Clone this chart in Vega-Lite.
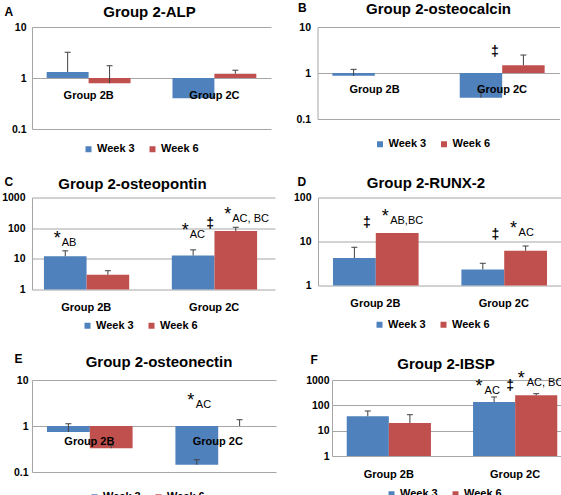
{
  "background": "white",
  "padding": 1,
  "spacing": 20.5,
  "resolve": {"scale": {"color": "independent"}},
  "vconcat": [
    {
      "spacing": 24.5,
      "resolve": {"scale": {"color": "independent"}},
      "hconcat": [
        {
          "width": 239, "height": 102,
          "title": {"text": "Group 2-ALP", "offset": -15, "dx": -2},
          "layer": [
            {
              "data": {"values": [
                {"group": "Group 2B", "week": "Week 3", "bar": "Group 2B / Week 3", "value": 1.31},
                {"group": "Group 2B", "week": "Week 6", "bar": "Group 2B / Week 6", "value": 0.79},
                {"group": "Group 2C", "week": "Week 3", "bar": "Group 2C / Week 3", "value": 0.4},
                {"group": "Group 2C", "week": "Week 6", "bar": "Group 2C / Week 6", "value": 1.21}
              ]},
              "mark": {"type": "bar"},
              "encoding": {
                "x": {"field": "bar", "type": "nominal", "scale": {"domain": ["Group 2B / Week 3", "Group 2B / Week 6", "gap", "Group 2C / Week 3", "Group 2C / Week 6"], "paddingInner": 0, "paddingOuter": 0.35}, "axis": null},
                "y": {"field": "value", "type": "quantitative", "scale": {"type": "log", "domain": [0.1, 10], "nice": false}, "axis": {"values": [0.1, 1, 10], "format": "~g", "title": "A", "titleX": -28, "titleY": -21, "labelPadding": 6}},
                "y2": {"datum": 1},
                "color": {"field": "week", "type": "nominal", "scale": {"domain": ["Week 3", "Week 6"], "range": ["#4F81BD", "#C0504D"]}, "legend": {"title": null, "legendX": 51, "legendY": 116.5}}
              }
            },
            {
              "data": {"values": [
                {"bar": "Group 2B / Week 3", "value": 1.31, "err": 3.2},
                {"bar": "Group 2B / Week 6", "value": 0.79, "err": 1.74},
                {"bar": "Group 2C / Week 6", "value": 1.21, "err": 1.42}
              ]},
              "layer": [
                {"mark": {"type": "bar", "width": 1, "color": "#404040"},
                 "encoding": {"x": {"field": "bar", "type": "nominal"}, "y": {"field": "value", "type": "quantitative"}, "y2": {"field": "err"}}},
                {"mark": {"type": "point", "shape": "M-1,0L1,0", "filled": false, "size": 36, "strokeWidth": 1, "color": "#404040", "opacity": 1},
                 "encoding": {"x": {"field": "bar", "type": "nominal"}, "y": {"field": "err", "type": "quantitative"}}}
              ]
            },
            {
              "data": {"values": [{"bar": "Group 2B / Week 3", "label": "Group 2B"}, {"bar": "Group 2C / Week 3", "label": "Group 2C"}]},
              "mark": {"type": "text", "fontSize": 11, "fontWeight": "bold", "align": "center", "baseline": "top", "dx": 21, "dy": 12, "color": "#000"},
              "encoding": {"x": {"field": "bar", "type": "nominal"}, "y": {"datum": 1}, "text": {"field": "label"}}
            }
          ]
        },
        {
          "width": 242, "height": 92,
          "title": {"text": "Group 2-osteocalcin", "offset": -16, "dx": 0},
          "layer": [
            {
              "data": {"values": [
                {"group": "Group 2B", "week": "Week 3", "bar": "Group 2B / Week 3", "value": 0.87},
                {"group": "Group 2B", "week": "Week 6", "bar": "Group 2B / Week 6", "value": 1.0},
                {"group": "Group 2C", "week": "Week 3", "bar": "Group 2C / Week 3", "value": 0.29},
                {"group": "Group 2C", "week": "Week 6", "bar": "Group 2C / Week 6", "value": 1.47}
              ]},
              "mark": {"type": "bar"},
              "encoding": {
                "x": {"field": "bar", "type": "nominal", "scale": {"domain": ["Group 2B / Week 3", "Group 2B / Week 6", "gap", "Group 2C / Week 3", "Group 2C / Week 6"], "paddingInner": 0, "paddingOuter": 0.35}, "axis": null},
                "y": {"field": "value", "type": "quantitative", "scale": {"type": "log", "domain": [0.1, 10], "nice": false}, "axis": {"values": [0.1, 1, 10], "format": "~g", "title": "B", "titleX": -20, "titleY": -25, "labelPadding": 7}},
                "y2": {"datum": 1},
                "color": {"field": "week", "type": "nominal", "scale": {"domain": ["Week 3", "Week 6"], "range": ["#4F81BD", "#C0504D"]}, "legend": {"title": null, "legendX": 57, "legendY": 111.5}}
              }
            },
            {
              "data": {"values": [
                {"bar": "Group 2B / Week 3", "value": 0.87, "err": 1.2},
                {"bar": "Group 2C / Week 3", "value": 0.29, "err": 0.43},
                {"bar": "Group 2C / Week 6", "value": 1.47, "err": 2.46}
              ]},
              "layer": [
                {"mark": {"type": "bar", "width": 1, "color": "#404040"},
                 "encoding": {"x": {"field": "bar", "type": "nominal"}, "y": {"field": "value", "type": "quantitative"}, "y2": {"field": "err"}}},
                {"mark": {"type": "point", "shape": "M-1,0L1,0", "filled": false, "size": 36, "strokeWidth": 1, "color": "#404040", "opacity": 1},
                 "encoding": {"x": {"field": "bar", "type": "nominal"}, "y": {"field": "err", "type": "quantitative"}}}
              ]
            },
            {
              "data": {"values": [{"bar": "Group 2B / Week 3", "label": "Group 2B"}, {"bar": "Group 2C / Week 3", "label": "Group 2C"}]},
              "mark": {"type": "text", "fontSize": 11, "fontWeight": "bold", "align": "center", "baseline": "top", "dx": 21, "dy": 11, "color": "#000"},
              "encoding": {"x": {"field": "bar", "type": "nominal"}, "y": {"datum": 1}, "text": {"field": "label"}}
            },
            {
              "data": {"values": [{"bar": "Group 2C / Week 3", "y": 2.86}]},
              "mark": {"type": "text", "text": "‡", "fontSize": 14, "fontWeight": "bold", "align": "center", "baseline": "middle", "dx": 14, "color": "#000"},
              "encoding": {"x": {"field": "bar", "type": "nominal"}, "y": {"field": "y", "type": "quantitative"}}
            }
          ]
        }
      ]
    },
    {
      "spacing": 18,
      "resolve": {"scale": {"color": "independent"}},
      "hconcat": [
        {
          "width": 243, "height": 92,
          "title": {"text": "Group 2-osteopontin", "offset": -16, "dx": -21},
          "layer": [
            {
              "data": {"values": [
                {"group": "Group 2B", "week": "Week 3", "bar": "Group 2B / Week 3", "value": 12.2},
                {"group": "Group 2B", "week": "Week 6", "bar": "Group 2B / Week 6", "value": 3.0},
                {"group": "Group 2C", "week": "Week 3", "bar": "Group 2C / Week 3", "value": 12.8},
                {"group": "Group 2C", "week": "Week 6", "bar": "Group 2C / Week 6", "value": 81}
              ]},
              "mark": {"type": "bar"},
              "encoding": {
                "x": {"field": "bar", "type": "nominal", "scale": {"domain": ["Group 2B / Week 3", "Group 2B / Week 6", "gap", "Group 2C / Week 3", "Group 2C / Week 6"], "paddingInner": 0, "paddingOuter": 0.35, "align": 0.4}, "axis": null},
                "y": {"field": "value", "type": "quantitative", "scale": {"type": "log", "domain": [1, 1000], "nice": false}, "axis": {"values": [1, 10, 100, 1000], "format": "~g", "title": "C", "titleX": -28, "titleY": -21, "labelPadding": 7}},
                "y2": {"datum": 1},
                "color": {"field": "week", "type": "nominal", "scale": {"domain": ["Week 3", "Week 6"], "range": ["#4F81BD", "#C0504D"]}, "legend": {"title": null, "legendX": 50, "legendY": 122.5}}
              }
            },
            {
              "data": {"values": [
                {"bar": "Group 2B / Week 3", "value": 12.2, "err": 18.2},
                {"bar": "Group 2B / Week 6", "value": 3.0, "err": 4.1},
                {"bar": "Group 2C / Week 3", "value": 12.8, "err": 19.6},
                {"bar": "Group 2C / Week 6", "value": 81, "err": 107}
              ]},
              "layer": [
                {"mark": {"type": "bar", "width": 1, "color": "#404040"},
                 "encoding": {"x": {"field": "bar", "type": "nominal"}, "y": {"field": "value", "type": "quantitative"}, "y2": {"field": "err"}}},
                {"mark": {"type": "point", "shape": "M-1,0L1,0", "filled": false, "size": 36, "strokeWidth": 1, "color": "#404040", "opacity": 1},
                 "encoding": {"x": {"field": "bar", "type": "nominal"}, "y": {"field": "err", "type": "quantitative"}}}
              ]
            },
            {
              "data": {"values": [{"bar": "Group 2B / Week 3", "label": "Group 2B"}, {"bar": "Group 2C / Week 3", "label": "Group 2C"}]},
              "mark": {"type": "text", "fontSize": 11, "fontWeight": "bold", "align": "center", "baseline": "top", "dx": 21, "dy": 12, "color": "#000"},
              "encoding": {"x": {"field": "bar", "type": "nominal"}, "y": {"datum": 1}, "text": {"field": "label"}}
            },
            {
              "data": {"values": [
                {"bar": "Group 2B / Week 3", "y": 34, "sub": "AB"},
                {"bar": "Group 2C / Week 3", "y": 60, "sub": "AC"},
                {"bar": "Group 2C / Week 6", "y": 198, "sub": "AC, BC"}
              ]},
              "layer": [
                {"mark": {"type": "text", "text": "*", "fontSize": 18, "align": "center", "baseline": "middle", "dx": -8, "dy": -4, "color": "#000"},
                 "encoding": {"x": {"field": "bar", "type": "nominal"}, "y": {"field": "y", "type": "quantitative"}}},
                {"mark": {"type": "text", "fontSize": 11, "align": "left", "baseline": "middle", "dx": -3.5, "color": "#000"},
                 "encoding": {"x": {"field": "bar", "type": "nominal"}, "y": {"field": "y", "type": "quantitative"}, "text": {"field": "sub"}}}
              ]
            },
            {
              "data": {"values": [{"bar": "Group 2C / Week 3", "y": 141}]},
              "mark": {"type": "text", "text": "‡", "fontSize": 14, "fontWeight": "bold", "align": "center", "baseline": "middle", "dx": 17, "color": "#000"},
              "encoding": {"x": {"field": "bar", "type": "nominal"}, "y": {"field": "y", "type": "quantitative"}}
            }
          ]
        },
        {
          "width": 244, "height": 88,
          "title": {"text": "Group 2-RUNX-2", "offset": -15, "dx": -14},
          "layer": [
            {
              "data": {"values": [
                {"group": "Group 2B", "week": "Week 3", "bar": "Group 2B / Week 3", "value": 4.2},
                {"group": "Group 2B", "week": "Week 6", "bar": "Group 2B / Week 6", "value": 15.7},
                {"group": "Group 2C", "week": "Week 3", "bar": "Group 2C / Week 3", "value": 2.3},
                {"group": "Group 2C", "week": "Week 6", "bar": "Group 2C / Week 6", "value": 6.2}
              ]},
              "mark": {"type": "bar"},
              "encoding": {
                "x": {"field": "bar", "type": "nominal", "scale": {"domain": ["Group 2B / Week 3", "Group 2B / Week 6", "gap", "Group 2C / Week 3", "Group 2C / Week 6"], "paddingInner": 0, "paddingOuter": 0.35}, "axis": null},
                "y": {"field": "value", "type": "quantitative", "scale": {"type": "log", "domain": [1, 100], "nice": false}, "axis": {"values": [1, 10, 100], "format": "~g", "title": "D", "titleX": -21, "titleY": -21, "labelPadding": 7}},
                "y2": {"datum": 1},
                "color": {"field": "week", "type": "nominal", "scale": {"domain": ["Week 3", "Week 6"], "range": ["#4F81BD", "#C0504D"]}, "legend": {"title": null, "legendX": 56, "legendY": 121.5}}
              }
            },
            {
              "data": {"values": [
                {"bar": "Group 2B / Week 3", "value": 4.2, "err": 7.4},
                {"bar": "Group 2C / Week 3", "value": 2.3, "err": 3.2},
                {"bar": "Group 2C / Week 6", "value": 6.2, "err": 7.9}
              ]},
              "layer": [
                {"mark": {"type": "bar", "width": 1, "color": "#404040"},
                 "encoding": {"x": {"field": "bar", "type": "nominal"}, "y": {"field": "value", "type": "quantitative"}, "y2": {"field": "err"}}},
                {"mark": {"type": "point", "shape": "M-1,0L1,0", "filled": false, "size": 36, "strokeWidth": 1, "color": "#404040", "opacity": 1},
                 "encoding": {"x": {"field": "bar", "type": "nominal"}, "y": {"field": "err", "type": "quantitative"}}}
              ]
            },
            {
              "data": {"values": [{"bar": "Group 2B / Week 3", "label": "Group 2B"}, {"bar": "Group 2C / Week 3", "label": "Group 2C"}]},
              "mark": {"type": "text", "fontSize": 11, "fontWeight": "bold", "align": "center", "baseline": "top", "dx": 21, "dy": 12, "color": "#000"},
              "encoding": {"x": {"field": "bar", "type": "nominal"}, "y": {"datum": 1}, "text": {"field": "label"}}
            },
            {
              "data": {"values": [
                {"bar": "Group 2B / Week 6", "y": 28.5, "sub": "AB,BC"},
                {"bar": "Group 2C / Week 6", "y": 15.2, "sub": "AC"}
              ]},
              "layer": [
                {"mark": {"type": "text", "text": "*", "fontSize": 18, "align": "center", "baseline": "middle", "dx": -12, "dy": -4, "color": "#000"},
                 "encoding": {"x": {"field": "bar", "type": "nominal"}, "y": {"field": "y", "type": "quantitative"}}},
                {"mark": {"type": "text", "fontSize": 11, "align": "left", "baseline": "middle", "dx": -7, "color": "#000"},
                 "encoding": {"x": {"field": "bar", "type": "nominal"}, "y": {"field": "y", "type": "quantitative"}, "text": {"field": "sub"}}}
              ]
            },
            {
              "data": {"values": [{"bar": "Group 2B / Week 3", "y": 26.9}, {"bar": "Group 2C / Week 3", "y": 13.7}]},
              "mark": {"type": "text", "text": "‡", "fontSize": 14, "fontWeight": "bold", "align": "center", "baseline": "middle", "dx": 12.5, "color": "#000"},
              "encoding": {"x": {"field": "bar", "type": "nominal"}, "y": {"field": "y", "type": "quantitative"}}
            }
          ]
        }
      ]
    },
    {
      "spacing": 29,
      "resolve": {"scale": {"color": "independent"}},
      "hconcat": [
        {
          "width": 244, "height": 92,
          "title": {"text": "Group 2-osteonectin", "offset": -18, "dx": 5},
          "layer": [
            {
              "data": {"values": [
                {"group": "Group 2B", "week": "Week 3", "bar": "Group 2B / Week 3", "value": 0.74},
                {"group": "Group 2B", "week": "Week 6", "bar": "Group 2B / Week 6", "value": 0.33},
                {"group": "Group 2C", "week": "Week 3", "bar": "Group 2C / Week 3", "value": 0.144},
                {"group": "Group 2C", "week": "Week 6", "bar": "Group 2C / Week 6", "value": 1.0}
              ]},
              "mark": {"type": "bar"},
              "encoding": {
                "x": {"field": "bar", "type": "nominal", "scale": {"domain": ["Group 2B / Week 3", "Group 2B / Week 6", "gap", "Group 2C / Week 3", "Group 2C / Week 6"], "paddingInner": 0, "paddingOuter": 0.35}, "axis": null},
                "y": {"field": "value", "type": "quantitative", "scale": {"type": "log", "domain": [0.1, 10], "nice": false}, "axis": {"values": [0.1, 1, 10], "format": "~g", "title": "E", "titleX": -18, "titleY": -27, "labelPadding": 4}},
                "y2": {"datum": 1},
                "color": {"field": "week", "type": "nominal", "scale": {"domain": ["Week 3", "Week 6"], "range": ["#4F81BD", "#C0504D"]}, "legend": {"title": null, "legendX": 57, "legendY": 111.5}}
              }
            },
            {
              "data": {"values": [
                {"bar": "Group 2B / Week 3", "value": 0.74, "err": 1.12},
                {"bar": "Group 2B / Week 6", "value": 0.33, "err": 0.38},
                {"bar": "Group 2C / Week 3", "value": 0.144, "err": 0.185},
                {"bar": "Group 2C / Week 6", "value": 1.0, "err": 1.37}
              ]},
              "layer": [
                {"mark": {"type": "bar", "width": 1, "color": "#404040"},
                 "encoding": {"x": {"field": "bar", "type": "nominal"}, "y": {"field": "value", "type": "quantitative"}, "y2": {"field": "err"}}},
                {"mark": {"type": "point", "shape": "M-1,0L1,0", "filled": false, "size": 36, "strokeWidth": 1, "color": "#404040", "opacity": 1},
                 "encoding": {"x": {"field": "bar", "type": "nominal"}, "y": {"field": "err", "type": "quantitative"}}}
              ]
            },
            {
              "data": {"values": [{"bar": "Group 2B / Week 3", "label": "Group 2B"}, {"bar": "Group 2C / Week 3", "label": "Group 2C"}]},
              "mark": {"type": "text", "fontSize": 11, "fontWeight": "bold", "align": "center", "baseline": "top", "dx": 21, "dy": 10, "color": "#000"},
              "encoding": {"x": {"field": "bar", "type": "nominal"}, "y": {"datum": 1}, "text": {"field": "label"}}
            },
            {
              "data": {"values": [
                {"bar": "Group 2C / Week 3", "y": 2.93, "sub": "AC"}
              ]},
              "layer": [
                {"mark": {"type": "text", "text": "*", "fontSize": 18, "align": "center", "baseline": "middle", "dx": -6, "dy": -4, "color": "#000"},
                 "encoding": {"x": {"field": "bar", "type": "nominal"}, "y": {"field": "y", "type": "quantitative"}}},
                {"mark": {"type": "text", "fontSize": 11, "align": "left", "baseline": "middle", "dx": -1, "color": "#000"},
                 "encoding": {"x": {"field": "bar", "type": "nominal"}, "y": {"field": "y", "type": "quantitative"}, "text": {"field": "sub"}}}
              ]
            }
          ]
        },
        {
          "width": 240, "height": 76,
          "title": {"text": "Group 2-IBSP", "offset": -19, "dx": -6},
          "layer": [
            {
              "data": {"values": [
                {"group": "Group 2B", "week": "Week 3", "bar": "Group 2B / Week 3", "value": 36.9},
                {"group": "Group 2B", "week": "Week 6", "bar": "Group 2B / Week 6", "value": 20.1},
                {"group": "Group 2C", "week": "Week 3", "bar": "Group 2C / Week 3", "value": 135},
                {"group": "Group 2C", "week": "Week 6", "bar": "Group 2C / Week 6", "value": 249}
              ]},
              "mark": {"type": "bar"},
              "encoding": {
                "x": {"field": "bar", "type": "nominal", "scale": {"domain": ["Group 2B / Week 3", "Group 2B / Week 6", "gap", "Group 2C / Week 3", "Group 2C / Week 6"], "paddingInner": 0, "paddingOuter": 0.35}, "axis": null},
                "y": {"field": "value", "type": "quantitative", "scale": {"type": "log", "domain": [1, 1000], "nice": false}, "axis": {"values": [1, 10, 100, 1000], "format": "~g", "title": "F", "titleX": -22, "titleY": -26, "labelPadding": 3}},
                "y2": {"datum": 1},
                "color": {"field": "week", "type": "nominal", "scale": {"domain": ["Week 3", "Week 6"], "range": ["#4F81BD", "#C0504D"]}, "legend": {"title": null, "legendX": 54, "legendY": 108.5}}
              }
            },
            {
              "data": {"values": [
                {"bar": "Group 2B / Week 3", "value": 36.9, "err": 59.8},
                {"bar": "Group 2B / Week 6", "value": 20.1, "err": 42.7},
                {"bar": "Group 2C / Week 3", "value": 135, "err": 214},
                {"bar": "Group 2C / Week 6", "value": 249, "err": 288}
              ]},
              "layer": [
                {"mark": {"type": "bar", "width": 1, "color": "#404040"},
                 "encoding": {"x": {"field": "bar", "type": "nominal"}, "y": {"field": "value", "type": "quantitative"}, "y2": {"field": "err"}}},
                {"mark": {"type": "point", "shape": "M-1,0L1,0", "filled": false, "size": 36, "strokeWidth": 1, "color": "#404040", "opacity": 1},
                 "encoding": {"x": {"field": "bar", "type": "nominal"}, "y": {"field": "err", "type": "quantitative"}}}
              ]
            },
            {
              "data": {"values": [{"bar": "Group 2B / Week 3", "label": "Group 2B"}, {"bar": "Group 2C / Week 3", "label": "Group 2C"}]},
              "mark": {"type": "text", "fontSize": 11, "fontWeight": "bold", "align": "center", "baseline": "top", "dx": 21, "dy": 13, "color": "#000"},
              "encoding": {"x": {"field": "bar", "type": "nominal"}, "y": {"datum": 1}, "text": {"field": "label"}}
            },
            {
              "data": {"values": [
                {"bar": "Group 2C / Week 3", "y": 385, "sub": "AC"},
                {"bar": "Group 2C / Week 6", "y": 762, "sub": "AC, BC"}
              ]},
              "layer": [
                {"mark": {"type": "text", "text": "*", "fontSize": 18, "align": "center", "baseline": "middle", "dx": -15, "dy": -4, "color": "#000"},
                 "encoding": {"x": {"field": "bar", "type": "nominal"}, "y": {"field": "y", "type": "quantitative"}}},
                {"mark": {"type": "text", "fontSize": 11, "align": "left", "baseline": "middle", "dx": -9.5, "color": "#000"},
                 "encoding": {"x": {"field": "bar", "type": "nominal"}, "y": {"field": "y", "type": "quantitative"}, "text": {"field": "sub"}}}
              ]
            },
            {
              "data": {"values": [{"bar": "Group 2C / Week 3", "y": 580}]},
              "mark": {"type": "text", "text": "‡", "fontSize": 14, "fontWeight": "bold", "align": "center", "baseline": "middle", "dx": 16, "color": "#000"},
              "encoding": {"x": {"field": "bar", "type": "nominal"}, "y": {"field": "y", "type": "quantitative"}}
            }
          ]
        }
      ]
    }
  ],
  "config": {
    "font": "Liberation Sans",
    "view": {"stroke": null},
    "axis": {"labelFont": "Liberation Sans", "labelColor": "#000", "labelFontWeight": "bold", "ticks": false, "domainColor": "#A6A6A6", "gridColor": "#A6A6A6", "gridWidth": 1},
    "axisY": {"grid": true, "domain": true, "labelFontSize": 10.5, "titleFont": "Liberation Sans", "titleFontSize": 12, "titleFontWeight": "bold", "titleAngle": 0, "titleAlign": "left", "titleBaseline": "top", "titleColor": "#000"},
    "title": {"font": "Liberation Sans", "fontSize": 15, "fontWeight": "bold", "baseline": "top", "anchor": "middle", "color": "#000"},
    "legend": {"orient": "none", "direction": "horizontal", "symbolType": "square", "symbolSize": 36, "symbolStrokeWidth": 0, "labelFont": "Liberation Sans", "labelFontSize": 11, "labelFontWeight": "bold", "labelColor": "#000", "labelOffset": 3, "columnPadding": 12, "padding": 0},
    "text": {"font": "Liberation Sans"}
  }
}
